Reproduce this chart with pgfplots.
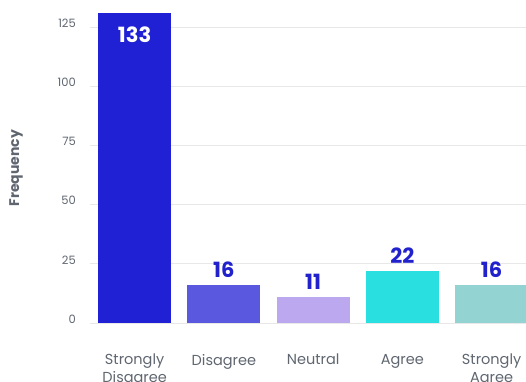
\documentclass[border=0pt]{standalone}
\usepackage{fontspec}
\setmainfont{Poppins}
\usepackage{pgfplots}
\pgfplotsset{compat=1.18}
\definecolor{c1}{HTML}{2020D4}
\definecolor{c2}{HTML}{5A58DE}
\definecolor{c3}{HTML}{BBA8EE}
\definecolor{c4}{HTML}{2ADFE0}
\definecolor{c5}{HTML}{93D3D2}
\definecolor{lab}{HTML}{2222CC}
\definecolor{txt}{HTML}{5F6670}
\begin{document}
\begin{tikzpicture}
\path[use as bounding box] (-90pt,-58pt) rectangle (436pt,323pt);
\clip (-90pt,-58pt) rectangle (436pt,323pt);
\begin{axis}[
  at={(0,0)}, anchor=south west,
  scale only axis, width=446.25pt, height=310pt,
  xmin=-0.5, xmax=4.5, ymin=0, ymax=131,
  ybar, bar width=73pt,
  axis line style={draw=none},
  major tick length=0pt,
  ymajorgrids, grid style={color=black!9, line width=0.7pt},
  ytick={0,25,50,75,100,125},
  xtick={0,1,2,3,4},
  xticklabels={{Strongly\\Disagree},{Disagree},{Neutral},{Agree},{Strongly\\Agree}},
  xticklabel style={align=center, text=txt, font=\fontsize{14.5}{18}\selectfont, anchor=north, inner sep=0pt, yshift=-31pt},
  yticklabel style={text=txt, font=\fontsize{11.5}{13}\selectfont, anchor=east, inner sep=0pt, xshift=-14pt, yshift=4pt},
  /pgf/number format/assume math mode=true,
  ylabel={Frequency},
  every axis y label/.style={at={(axis description cs:-0.1658,0.5)}, rotate=90, anchor=center, font=\bfseries\fontsize{14}{16}\selectfont, text=txt},
  every node near coord/.append style={font=\bfseries\fontsize{21}{22}\selectfont, text=lab, anchor=south, inner sep=0pt, yshift=7pt},
]
\addplot[fill=c1, draw=none, bar shift=0pt] coordinates {(0,133)};
\addplot[fill=c2, draw=none, bar shift=0pt, nodes near coords] coordinates {(1,16)};
\addplot[fill=c3, draw=none, bar shift=0pt, nodes near coords] coordinates {(2,11)};
\addplot[fill=c4, draw=none, bar shift=0pt, nodes near coords] coordinates {(3,22)};
\addplot[fill=c5, draw=none, bar shift=0pt, nodes near coords] coordinates {(4,16)};
% label of the first bar, whose top lies above the visible range
\addplot[draw=none, fill=none, bar shift=0pt, point meta=explicit symbolic, nodes near coords,
  every node near coord/.append style={text=white, yshift=-37pt}] coordinates {(0,131) [133]};
\end{axis}
\end{tikzpicture}
\end{document}
